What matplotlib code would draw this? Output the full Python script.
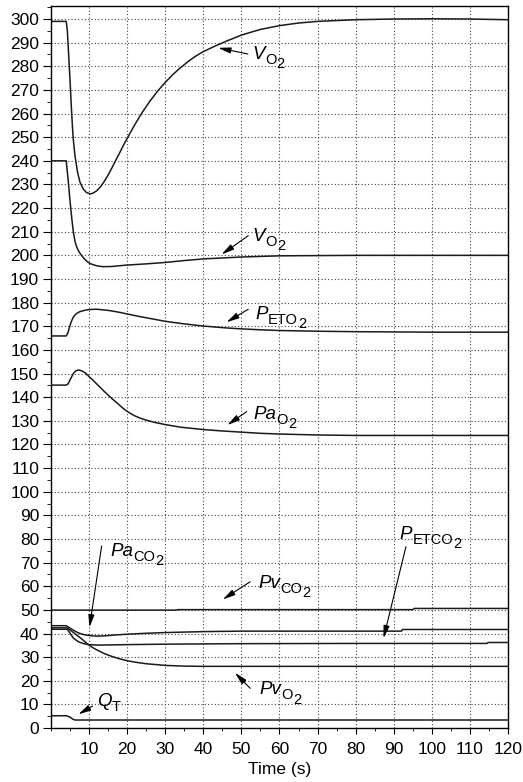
import numpy as np
import matplotlib
matplotlib.use('Agg')
import matplotlib.pyplot as plt
from matplotlib.ticker import MultipleLocator

plt.rcParams['font.family'] = ['Liberation Sans', 'DejaVu Sans']

# values (time in s)
t_vo2_top = [0, 4, 4.3, 4.6, 5, 5.4, 5.8, 6.3, 7, 7.6, 8.5, 9.3, 10.3, 11, 12, 13, 14, 15, 16, 17, 18,
             19, 20, 22, 24, 26, 28, 30, 32, 34, 36, 38, 40, 43, 46, 50, 55, 60, 65, 70, 80, 90, 100, 110, 120]
vo2_top = [299, 299, 295, 286, 274, 261, 250, 242, 235, 231, 228, 226.6, 226, 226.3, 227.3, 229, 231.3,
           234, 237, 240.2, 243.3, 246.5, 249.5, 255.3, 260.6, 265.3, 269.5, 273.2, 276.5, 279.4, 282,
           284.3, 286.2, 288.5, 290.6, 293.2, 295.6, 297.2, 298.3, 299, 299.7, 300, 300.1, 300, 299.7]

t_vo2_low = [0, 4, 4.5, 5, 5.5, 5.9, 6.3, 6.7, 7.2, 7.6, 8.5, 9.4, 10.2, 11.1, 12.3, 13.7, 16, 20, 25,
             30, 35, 40, 50, 60, 80, 100, 120]
vo2_low = [240, 240, 232, 223, 215, 209.5, 206, 203.7, 202, 200.9, 199, 197.5, 196.6, 196, 195.5, 195.2,
           195.3, 195.9, 196.4, 197, 197.8, 198.5, 199.3, 199.8, 200, 200, 200]

t_peto2 = [0, 4, 4.5, 5, 5.5, 5.9, 6.4, 6.8, 7.6, 9, 10.2, 12, 14, 15.5, 18, 20, 23, 26, 30, 35, 40,
           46, 50, 55, 60, 70, 80, 100, 120]
peto2 = [165.9, 165.9, 167.5, 170.5, 172.6, 174, 174.9, 175.5, 176.2, 176.8, 177.1, 177.2, 176.9,
         176.6, 175.9, 175.2, 174.2, 173.3, 172.1, 171, 170.1, 169.3, 168.9, 168.5, 168.2, 167.9,
         167.7, 167.5, 167.5]

t_pao2 = [0, 3.9, 4.5, 5, 5.9, 6.6, 7.2, 8, 9, 9.8, 11, 12, 13, 14, 15, 16, 17, 18, 19, 20, 21, 22,
          23, 24, 25, 27, 30, 34, 40, 45, 50, 55, 60, 70, 80, 120]
pao2 = [145.1, 145.1, 145.6, 147.3, 150.1, 151.2, 151.5, 151.2, 150.3, 149, 147.2, 145.6, 144, 142.4,
        140.9, 139.4, 138, 136.6, 135.2, 134, 133, 132.1, 131.4, 130.8, 130.3, 129.4, 128.4, 127.3,
        126.3, 125.7, 125.2, 124.7, 124.4, 124, 123.8, 123.8]

t_pvco2 = [0, 33, 33.2, 95, 95.4, 120]
pvco2 = [49.9, 49.9, 50.1, 50.1, 50.6, 50.6]

t_paco2 = [0, 4, 5, 6, 7, 8, 9, 10, 11, 12, 14, 17, 20, 25, 30, 40, 50, 60, 92, 92.3, 120]
paco2 = [43.3, 43.3, 42.3, 41.3, 40.4, 39.8, 39.4, 39.2, 39.0, 38.9, 39.0, 39.4, 39.7, 40.1, 40.4,
         40.8, 41, 41, 41, 41.7, 41.7]

t_petco2 = [0, 4.3, 5, 5.9, 7.2, 8.2, 9.4, 11, 12.9, 20, 31, 50, 80, 114.5, 114.8, 120]
petco2 = [41.8, 41.8, 40.1, 38, 36.5, 35.9, 35.4, 35.2, 35.1, 35.3, 35.5, 35.7, 35.8, 35.8, 36.2, 36.2]

t_pvo2 = [0, 4.2, 5, 6, 7, 8, 9, 10, 11, 12, 13, 14, 15, 16, 17, 18, 20, 22, 25, 28, 30, 35, 40, 120]
pvo2 = [42.4, 42.4, 41.5, 40.3, 39, 37.8, 36.4, 35.1, 34, 33.1, 32.3, 31.5, 30.9, 30.3, 29.8, 29.3,
        28.5, 27.9, 27.2, 26.8, 26.5, 26.2, 26.1, 26.1]

t_qt = [0, 4.1, 5, 5.8, 6.3, 120]
qt = [5.2, 5.2, 4.6, 3.7, 3.4, 3.4]

series = [(t_vo2_top, vo2_top), (t_vo2_low, vo2_low), (t_peto2, peto2), (t_pao2, pao2),
          (t_pvco2, pvco2), (t_paco2, paco2), (t_petco2, petco2), (t_pvo2, pvo2), (t_qt, qt)]

fig = plt.figure(figsize=(5.23, 7.82), dpi=100)
ax = fig.add_axes([0.0975, 0.069, 0.8738, 0.9233])

for t, v in series:
    ax.plot(t, v, color='#1a1a1a', lw=1.1)

ax.set_xlim(0, 120)
ax.set_ylim(0, 305.5)
ax.set_xticks(np.arange(10, 121, 10))
ax.xaxis.set_minor_locator(MultipleLocator(5))
ax.set_yticks(np.arange(0, 301, 10))
ax.yaxis.set_minor_locator(MultipleLocator(5))
ax.grid(True, which='major', color='#444444', lw=0.8, ls=(0, (1, 2)))
ax.tick_params(axis='both', which='major', direction='out', labelsize=12.5, color='k')
ax.tick_params(axis='y', which='major', length=6, pad=2.5)
ax.tick_params(axis='y', which='minor', length=3)
ax.tick_params(axis='x', which='major', length=4.5, pad=5.5)
ax.tick_params(axis='x', which='minor', length=2.5)
for s in ax.spines.values():
    s.set_linewidth(1.0)
ax.set_xlabel('Time (s)', fontsize=12.5, labelpad=4)


def label(x, y, main, sub, subsub=''):
    t1 = ax.text(x, y, main, fontsize=13.5, style='italic', ha='left', va='baseline')
    t2 = ax.annotate(sub, xy=(1, 0), xycoords=t1, xytext=(0.3, -2.8),
                     textcoords='offset points', fontsize=10.5, ha='left', va='bottom')
    if subsub:
        ax.annotate(subsub, xy=(1, 0), xycoords=t2, xytext=(0.2, -3.0),
                    textcoords='offset points', fontsize=10.5, ha='left', va='bottom')


def arrow(tail, head):
    ax.annotate('', xy=head, xytext=tail,
                arrowprops=dict(arrowstyle='-|>,head_length=0.75,head_width=0.18',
                                color='k', lw=0.8, shrinkA=0, shrinkB=0))


label(52.8, 283.0, 'V', 'O', '2')
arrow((51.7, 285.2), (43.9, 287.8))
label(53.0, 206.0, 'V', 'O', '2')
arrow((51.8, 208.3), (44.8, 200.4))
label(53.6, 173.0, 'P', 'ETO', '2')
arrow((51.8, 177.2), (46.1, 171.7))
label(53.1, 130.6, 'Pa', 'O', '2')
arrow((51.4, 133.9), (46.3, 128.2))
label(15.5, 72.7, 'Pa', 'CO', '2')
arrow((13.3, 77.0), (10.1, 42.6))
label(54.4, 59.3, 'Pv', 'CO', '2')
arrow((52.3, 61.9), (45.1, 54.4))
label(91.6, 79.8, 'P', 'ETCO', '2')
arrow((93.2, 76.7), (87.3, 38.0))
label(54.7, 14.2, 'Pv', 'O', '2')
arrow((52.3, 16.8), (48.3, 23.4))
label(12.0, 9.2, 'Q', 'T')
arrow((10.9, 9.3), (7.2, 5.8))

fig.savefig('out.png', dpi=100)
